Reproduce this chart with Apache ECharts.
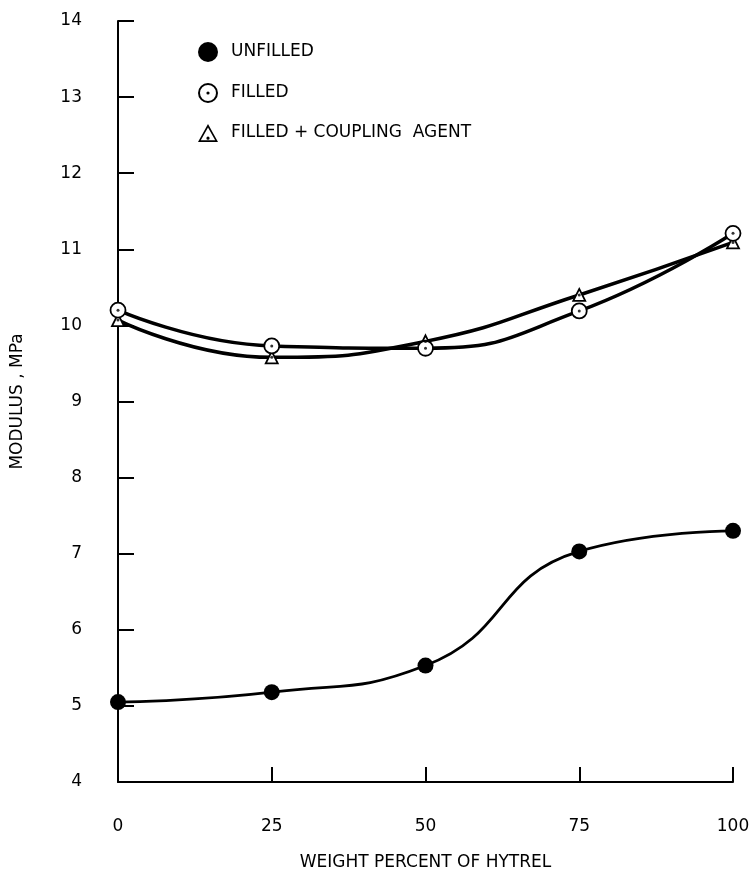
<!DOCTYPE html>
<html>
<head>
<meta charset="utf-8">
<script src="https://cdn.jsdelivr.net/npm/echarts@6/dist/echarts.min.js"></script>
<style>html,body{margin:0;padding:0;background:#fff}#c{width:753px;height:876px}</style>
</head>
<body>
<div id="c"></div>
<script>
const weightPercent = [0, 25, 50, 75, 100];
const unfilled = [5.05, 5.18, 5.53, 7.03, 7.30];
const filled = [10.20, 9.73, 9.70, 10.19, 11.21];
const filledCoupling = [10.07, 9.58, 9.79, 10.40, 11.09];
const seriesNames = ['UNFILLED', 'FILLED', 'FILLED + COUPLING  AGENT'];

const pairs = arr => weightPercent.map((x, i) => [x, arr[i]]);
const ringDot = 'path://M0,-10 A10,10 0 1,0 0,10 A10,10 0 1,0 0,-10 Z M0,-8 A8,8 0 1,1 0,8 A8,8 0 1,1 0,-8 Z M0,-1.6 A1.6,1.6 0 1,0 0,1.6 A1.6,1.6 0 1,0 0,-1.6 Z';
const triDot = 'path://M0,-10 L10,8 L-10,8 Z M0,-6.4 L-7.2,6.2 L7.2,6.2 Z M0,2.6 A1.6,1.6 0 1,0 0,5.8 A1.6,1.6 0 1,0 0,2.6 Z';
const font = 'DejaVu Sans';

const chart = echarts.init(document.getElementById('c'));
chart.setOption({
  animation: false,
  backgroundColor: '#fff',
  textStyle: { fontFamily: font, color: '#000' },
  grid: { left: 118, right: 20, top: 21, bottom: 92 },
  legend: {
    orient: 'vertical', left: 193, top: 37, itemGap: 21, itemWidth: 20, itemHeight: 20,
    textStyle: { fontFamily: font, fontSize: 17, color: '#000', padding: [0, 0, 0, 8] },
    data: [
      { name: seriesNames[0], icon: 'circle', itemStyle: { color: '#000', borderWidth: 0 } },
      { name: seriesNames[1], icon: ringDot, itemStyle: { color: '#000', borderWidth: 0 } },
      { name: seriesNames[2], icon: triDot, itemStyle: { color: '#000', borderWidth: 0 } }
    ]
  },
  xAxis: {
    type: 'value', min: 0, max: 100, interval: 25,
    name: 'WEIGHT PERCENT OF HYTREL', nameLocation: 'middle', nameGap: 72,
    nameTextStyle: { fontFamily: font, fontSize: 17, color: '#000' },
    axisLine: { lineStyle: { color: '#000', width: 2 } },
    axisTick: { inside: true, length: 15, lineStyle: { color: '#000', width: 2 } },
    axisLabel: { margin: 36, fontFamily: font, fontSize: 17, color: '#000' },
    splitLine: { show: false }
  },
  yAxis: {
    type: 'value', min: 4, max: 14, interval: 1,
    name: 'MODULUS , MPa', nameLocation: 'middle', nameGap: 92, nameRotate: 90,
    nameTextStyle: { fontFamily: font, fontSize: 17, color: '#000' },
    axisLine: { lineStyle: { color: '#000', width: 2 } },
    axisTick: { inside: true, length: 16, lineStyle: { color: '#000', width: 2 } },
    axisLabel: { margin: 36, fontFamily: font, fontSize: 17, color: '#000' },
    splitLine: { show: false }
  },
  series: [
    { name: seriesNames[0], type: 'line', data: pairs(unfilled), smooth: 0.5,
      symbol: 'circle', symbolSize: 16, z: 3,
      lineStyle: { color: '#000', width: 2.8 }, itemStyle: { color: '#000' } },
    { name: seriesNames[1], type: 'line', data: pairs(filled), smooth: 0.5,
      symbol: 'circle', symbolSize: 15, z: 4,
      lineStyle: { color: '#000', width: 3.5 }, itemStyle: { color: '#fff', borderColor: '#000', borderWidth: 1.8 } },
    { name: seriesNames[2], type: 'line', data: pairs(filledCoupling), smooth: 0.5,
      symbol: 'triangle', symbolSize: 12, z: 3,
      lineStyle: { color: '#000', width: 3.5 }, itemStyle: { color: '#fff', borderColor: '#000', borderWidth: 1.8 } },
    { type: 'scatter', data: pairs(filled), symbol: 'circle', symbolSize: 3, z: 6, silent: true,
      itemStyle: { color: '#000' } },
    { type: 'scatter', data: pairs(filledCoupling), symbol: 'circle', symbolSize: 3, z: 5, silent: true,
      itemStyle: { color: '#000' } }
  ]
});
</script>
</body>
</html>
